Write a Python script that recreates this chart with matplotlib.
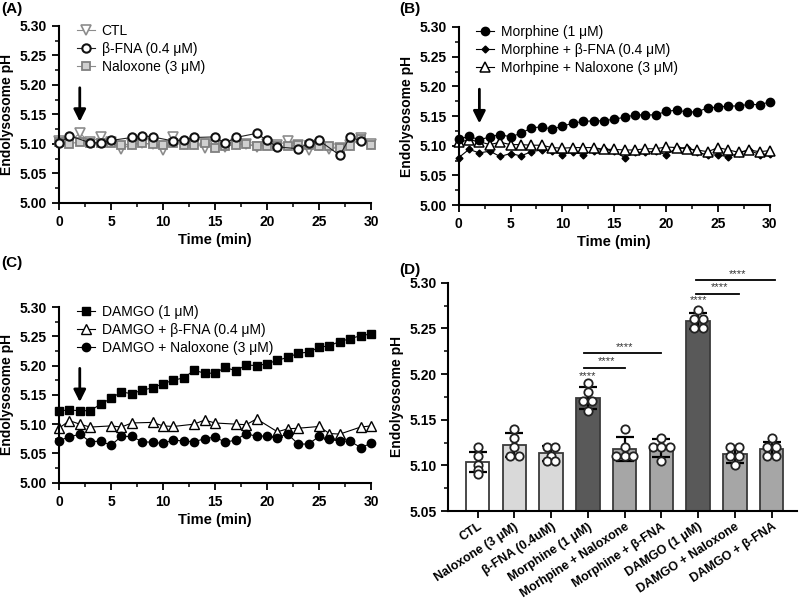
import numpy as np
import matplotlib
matplotlib.use("Agg")
import matplotlib.pyplot as plt
from matplotlib.ticker import MultipleLocator

plt.rcParams['font.family'] = ['Liberation Sans', 'DejaVu Sans']

# ---- data ----
time = list(range(31))

# (A)
ctl = [5.105, 5.104, 5.118, 5.103, 5.112, 5.103, 5.091, 5.100, 5.101, 5.100, 5.089,
       5.112, 5.100, 5.100, 5.094, 5.098, 5.095, 5.100, 5.100, 5.095, 5.100, 5.098,
       5.105, 5.098, 5.090, 5.098, 5.092, 5.094, 5.098, 5.110, 5.100]
bfna_time = [0, 1, 3, 4, 5, 7, 8, 9, 11, 12, 13, 15, 16, 17, 19, 20, 21, 23, 24, 25, 27, 28, 29]
bfna = [5.101, 5.114, 5.102, 5.102, 5.106, 5.111, 5.114, 5.112, 5.105, 5.107, 5.111, 5.112,
        5.101, 5.111, 5.118, 5.106, 5.095, 5.092, 5.101, 5.106, 5.081, 5.112, 5.105]
naloxone = [5.104, 5.100, 5.104, 5.102, 5.101, 5.102, 5.099, 5.099, 5.101, 5.100, 5.098,
            5.102, 5.098, 5.098, 5.101, 5.093, 5.097, 5.098, 5.100, 5.097, 5.097, 5.096,
            5.096, 5.098, 5.098, 5.097, 5.096, 5.093, 5.097, 5.109, 5.098]

# (B)
morphine = [5.111, 5.116, 5.110, 5.115, 5.119, 5.115, 5.121, 5.130, 5.132, 5.128, 5.133,
            5.138, 5.141, 5.142, 5.142, 5.145, 5.148, 5.152, 5.152, 5.152, 5.158, 5.160,
            5.157, 5.157, 5.164, 5.165, 5.167, 5.167, 5.170, 5.169, 5.174]
morphine_bfna = [5.080, 5.094, 5.088, 5.091, 5.082, 5.087, 5.083, 5.090, 5.093, 5.092, 5.085,
                 5.090, 5.085, 5.092, 5.094, 5.091, 5.080, 5.089, 5.089, 5.091, 5.085, 5.096,
                 5.097, 5.090, 5.084, 5.085, 5.081, 5.088, 5.093, 5.085, 5.087]
morphine_nal = [5.106, 5.110, 5.107, 5.102, 5.106, 5.102, 5.102, 5.101, 5.101, 5.097, 5.096,
                5.097, 5.097, 5.097, 5.094, 5.094, 5.093, 5.093, 5.095, 5.095, 5.098, 5.097,
                5.095, 5.093, 5.090, 5.097, 5.093, 5.089, 5.093, 5.090, 5.092]

# (C)
damgo = [5.123, 5.124, 5.123, 5.123, 5.134, 5.144, 5.155, 5.152, 5.158, 5.162, 5.169,
         5.175, 5.179, 5.192, 5.187, 5.187, 5.197, 5.191, 5.201, 5.200, 5.203, 5.209,
         5.214, 5.221, 5.223, 5.231, 5.234, 5.241, 5.246, 5.251, 5.254]
damgo_bfna_time = [0, 1, 2, 3, 5, 6, 7, 9, 10, 11, 13, 14, 15, 17, 18, 19, 21, 22, 23, 25, 26, 27, 29, 30]
damgo_bfna = [5.093, 5.106, 5.100, 5.095, 5.097, 5.095, 5.102, 5.103, 5.097, 5.096, 5.100, 5.107,
              5.102, 5.100, 5.099, 5.109, 5.087, 5.092, 5.093, 5.096, 5.084, 5.083, 5.095, 5.097]
damgo_nal = [5.072, 5.078, 5.083, 5.070, 5.071, 5.064, 5.079, 5.079, 5.070, 5.069, 5.067,
             5.073, 5.071, 5.070, 5.075, 5.078, 5.069, 5.073, 5.084, 5.079, 5.080, 5.077,
             5.083, 5.066, 5.066, 5.079, 5.074, 5.071, 5.071, 5.060, 5.067]

# (D)
groups = ['CTL', 'Naloxone (3 μM)', 'β-FNA (0.4uM)', 'Morphine (1 μM)', 'Morhpine + Naloxone',
          'Morphine + β-FNA', 'DAMGO (1 μM)', 'DAMGO + Naloxone', 'DAMGO + β-FNA']
means = [5.104, 5.122, 5.113, 5.174, 5.118, 5.119, 5.258, 5.112, 5.118]
sds = [0.011, 0.013, 0.008, 0.012, 0.013, 0.010, 0.009, 0.009, 0.008]
points = [[5.12, 5.11, 5.10, 5.095, 5.09],
          [5.14, 5.13, 5.12, 5.11, 5.11],
          [5.12, 5.12, 5.11, 5.105, 5.105],
          [5.19, 5.18, 5.17, 5.17, 5.16],
          [5.14, 5.12, 5.11, 5.11, 5.11],
          [5.13, 5.12, 5.12, 5.12, 5.105],
          [5.27, 5.26, 5.26, 5.25, 5.25],
          [5.12, 5.12, 5.11, 5.11, 5.10],
          [5.13, 5.12, 5.12, 5.11, 5.11]]
bar_colors = ['white', '#d9d9d9', '#d9d9d9', '#595959', '#a6a6a6', '#a6a6a6',
              '#595959', '#a6a6a6', '#a6a6a6']

fig = plt.figure(figsize=(7.99, 6.0), dpi=100)
axA = fig.add_axes([0.0738, 0.6617, 0.3905, 0.295])
axB = fig.add_axes([0.574, 0.658, 0.3896, 0.297])
axC = fig.add_axes([0.0738, 0.1955, 0.3905, 0.2928])
axD = fig.add_axes([0.5613, 0.1483, 0.4362, 0.3805])


def style_axes(ax, ymin, ymax):
    for s in ['top', 'right']:
        ax.spines[s].set_visible(False)
    for s in ['left', 'bottom']:
        ax.spines[s].set_linewidth(1.5)
    ax.set_ylim(ymin, ymax)
    ax.yaxis.set_major_locator(MultipleLocator(0.05))
    ax.yaxis.set_minor_locator(MultipleLocator(0.025))
    ax.yaxis.set_major_formatter(matplotlib.ticker.FormatStrFormatter('%.2f'))
    ax.tick_params(which='major', length=5, width=1.3, labelsize=10)
    ax.tick_params(which='minor', length=3, width=1.1)
    for lab in ax.get_yticklabels() + ax.get_xticklabels():
        lab.set_fontweight('bold')
    ax.set_ylabel('Endolysosome pH', fontsize=10, fontweight='bold', labelpad=4)


def time_axes(ax):
    ax.set_xlim(0, 30)
    ax.xaxis.set_major_locator(MultipleLocator(5))
    ax.xaxis.set_minor_locator(MultipleLocator(2.5))
    ax.spines['bottom'].set_bounds(0, 30)
    style_axes(ax, 5.0, 5.30)
    ax.set_xlabel('Time (min)', fontsize=10.5, fontweight='bold', labelpad=3)
    ax.annotate('', xy=(2, 5.133), xytext=(2, 5.20),
                arrowprops=dict(arrowstyle='-|>', lw=2.0, color='k', mutation_scale=18))


leg_kw = dict(loc='upper left', bbox_to_anchor=(0.03, 1.06), frameon=False, fontsize=10,
              handlelength=1.3, handletextpad=0.5, labelspacing=0.3, borderaxespad=0.2)

# (A)
axA.plot(time, ctl, color='#8c8c8c', lw=0.8, marker='v', ms=6.5, mfc='white', mec='#8c8c8c',
         mew=1.2, label='CTL', clip_on=False)
axA.plot(bfna_time, bfna, color='#222222', lw=0.8, marker='o', ms=6, mfc='white', mec='#111111',
         mew=1.5, label='β-FNA (0.4 μM)', clip_on=False, zorder=3)
axA.plot(time, naloxone, color='#8c8c8c', lw=0.8, marker='s', ms=5.5, mfc='#d0d0d0', mec='#808080',
         mew=1.3, label='Naloxone (3 μM)', clip_on=False)
time_axes(axA)
axA.legend(**leg_kw)

# (B)
axB.plot(time, morphine, color='k', lw=0.8, marker='o', ms=6, mfc='k', mec='k',
         label='Morphine (1 μM)', clip_on=False, zorder=3)
axB.plot(time, morphine_bfna, color='k', lw=0.8, marker='D', ms=3.5, mfc='k', mec='k',
         label='Morphine + β-FNA (0.4 μM)', clip_on=False)
axB.plot(time, morphine_nal, color='k', lw=0.8, marker='^', ms=6.5, mfc='white', mec='k',
         mew=1.1, label='Morhpine + Naloxone (3 μM)', clip_on=False)
time_axes(axB)
axB.legend(**leg_kw)

# (C)
axC.plot(time, damgo, color='k', lw=0.8, marker='s', ms=5.5, mfc='k', mec='k',
         label='DAMGO (1 μM)', clip_on=False)
axC.plot(damgo_bfna_time, damgo_bfna, color='k', lw=0.8, marker='^', ms=6.5, mfc='white', mec='k',
         mew=1.0, label='DAMGO + β-FNA (0.4 μM)', clip_on=False)
axC.plot(time, damgo_nal, color='k', lw=0.8, marker='o', ms=6, mfc='k', mec='k',
         label='DAMGO + Naloxone (3 μM)', clip_on=False)
time_axes(axC)
axC.legend(**leg_kw)

# (D)
x = np.arange(len(groups))
axD.bar(x, [m - 5.05 for m in means], bottom=5.05, width=0.64, color=bar_colors,
        edgecolor='#3a3a3a', linewidth=1.3, zorder=2)
axD.errorbar(x, means, yerr=sds, fmt='none', ecolor='k', elinewidth=1.6, capsize=6.5,
             capthick=1.6, zorder=4)
for i, vals in enumerate(points):
    # spread equal values sideways like a beeswarm
    counts = {}
    for v in vals:
        counts[v] = counts.get(v, 0) + 1
    seen = {}
    for v in vals:
        n = counts[v]
        k = seen.get(v, 0)
        seen[v] = k + 1
        off = (k - (n - 1) / 2) * 0.24
        axD.plot(i + off, v, 'o', ms=6, mfc='white', mec='#222222', mew=1.3, zorder=5)
axD.set_xlim(-0.79, 8.69)
style_axes(axD, 5.05, 5.30)
axD.set_xticks(x)
axD.set_xticklabels(groups, rotation=33, ha='right', rotation_mode='anchor',
                    fontsize=9, fontweight='bold')
axD.tick_params(axis='x', length=5, width=1.3, pad=2)

star_kw = dict(ha='center', va='bottom', fontsize=8, color='#333333')
axD.text(3, 5.1925, '****', **star_kw)
axD.text(6, 5.2755, '****', **star_kw)
for (x0, x1, y) in [(2.9, 4.0, 5.207), (2.9, 5.0, 5.223), (5.95, 7.1, 5.288), (5.95, 8.1, 5.303)]:
    axD.plot([x0, x1], [y, y], color='k', lw=1.3, clip_on=False)
    axD.text((x0 + x1) / 2 + 0.05, y + 0.0015, '****', **star_kw)

# panel letters
for lab, (px, py) in zip(['(A)', '(B)', '(C)', '(D)'],
                         [(0.002, 0.985), (0.5, 0.985), (0.002, 0.562), (0.5, 0.55)]):
    fig.text(px, py, lab, fontsize=11, fontweight='bold', va='center', ha='left')

fig.savefig('out.png', dpi=100)
